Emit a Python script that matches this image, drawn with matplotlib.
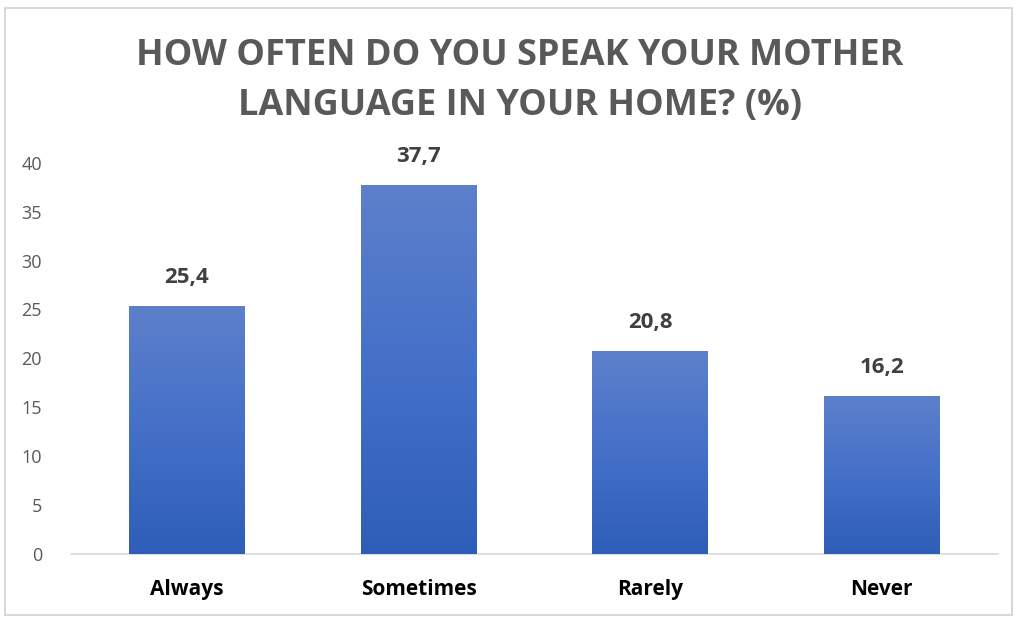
import numpy as np
import matplotlib.pyplot as plt
from matplotlib.patches import Rectangle
from matplotlib.colors import LinearSegmentedColormap

# -------------------------
# Data
# -------------------------

categories = ["Always", "Sometimes", "Rarely", "Never"]
values = [25.4, 37.7, 20.8, 16.2]
value_labels = ["25,4", "37,7", "20,8", "16,2"]
yticks = [0, 5, 10, 15, 20, 25, 30, 35, 40]

# -------------------------
# Plot
# -------------------------

plt.rcParams["font.family"] = ["Open Sans", "DejaVu Sans"]

fig = plt.figure(figsize=(10.17, 6.19), dpi=100)
ax = fig.add_axes([0.070, 0.105, 0.911, 0.632])

# outer chart border
fig.patches.append(Rectangle((0.005, 0.006), 0.99, 0.981, transform=fig.transFigure,
                             fill=False, edgecolor="#d9d9d9", linewidth=1.5))

x = np.arange(len(categories))
bars = ax.bar(x, values, width=0.5, color="#3a66c0", zorder=2)

# vertical gradient fill, clipped to each bar
grad = LinearSegmentedColormap.from_list("g", ["#2e5eb8", "#4470c8", "#5d80cb"])
gradient = np.linspace(0, 1, 256).reshape(-1, 1)

for bar, lab in zip(bars, value_labels):
    x0 = bar.get_x()
    w = bar.get_width()
    h = bar.get_height()
    im = ax.imshow(gradient, cmap=grad, origin="lower", aspect="auto",
                   extent=[x0, x0 + w, 0, h], zorder=3)
    im.set_clip_path(bar)
    ax.text(x0 + w / 2, h + 2.9, lab, ha="center", va="center",
            fontsize=16, fontweight="bold", color="#404040")

ax.set_xlim(-0.5, 3.5)
ax.set_ylim(0, 40)
ax.set_aspect("auto")

ax.set_yticks(yticks)
ax.set_yticklabels([str(t) for t in yticks], fontsize=13, color="#595959")
ax.set_xticks(x)
ax.set_xticklabels(categories, fontsize=15, fontweight="bold", color="black")
ax.tick_params(axis="both", length=0)
ax.tick_params(axis="y", pad=21)
ax.tick_params(axis="x", pad=18)

for s in ["top", "right", "left"]:
    ax.spines[s].set_visible(False)
ax.spines["bottom"].set_color("#d9d9d9")
ax.spines["bottom"].set_linewidth(1.2)

fig.text(0.511, 0.869, "HOW OFTEN DO YOU SPEAK YOUR MOTHER\nLANGUAGE IN YOUR HOME? (%)",
         ha="center", va="center", fontsize=26, fontweight="bold",
         color="#595959", linespacing=1.5)

plt.savefig("out.png", dpi=100)
